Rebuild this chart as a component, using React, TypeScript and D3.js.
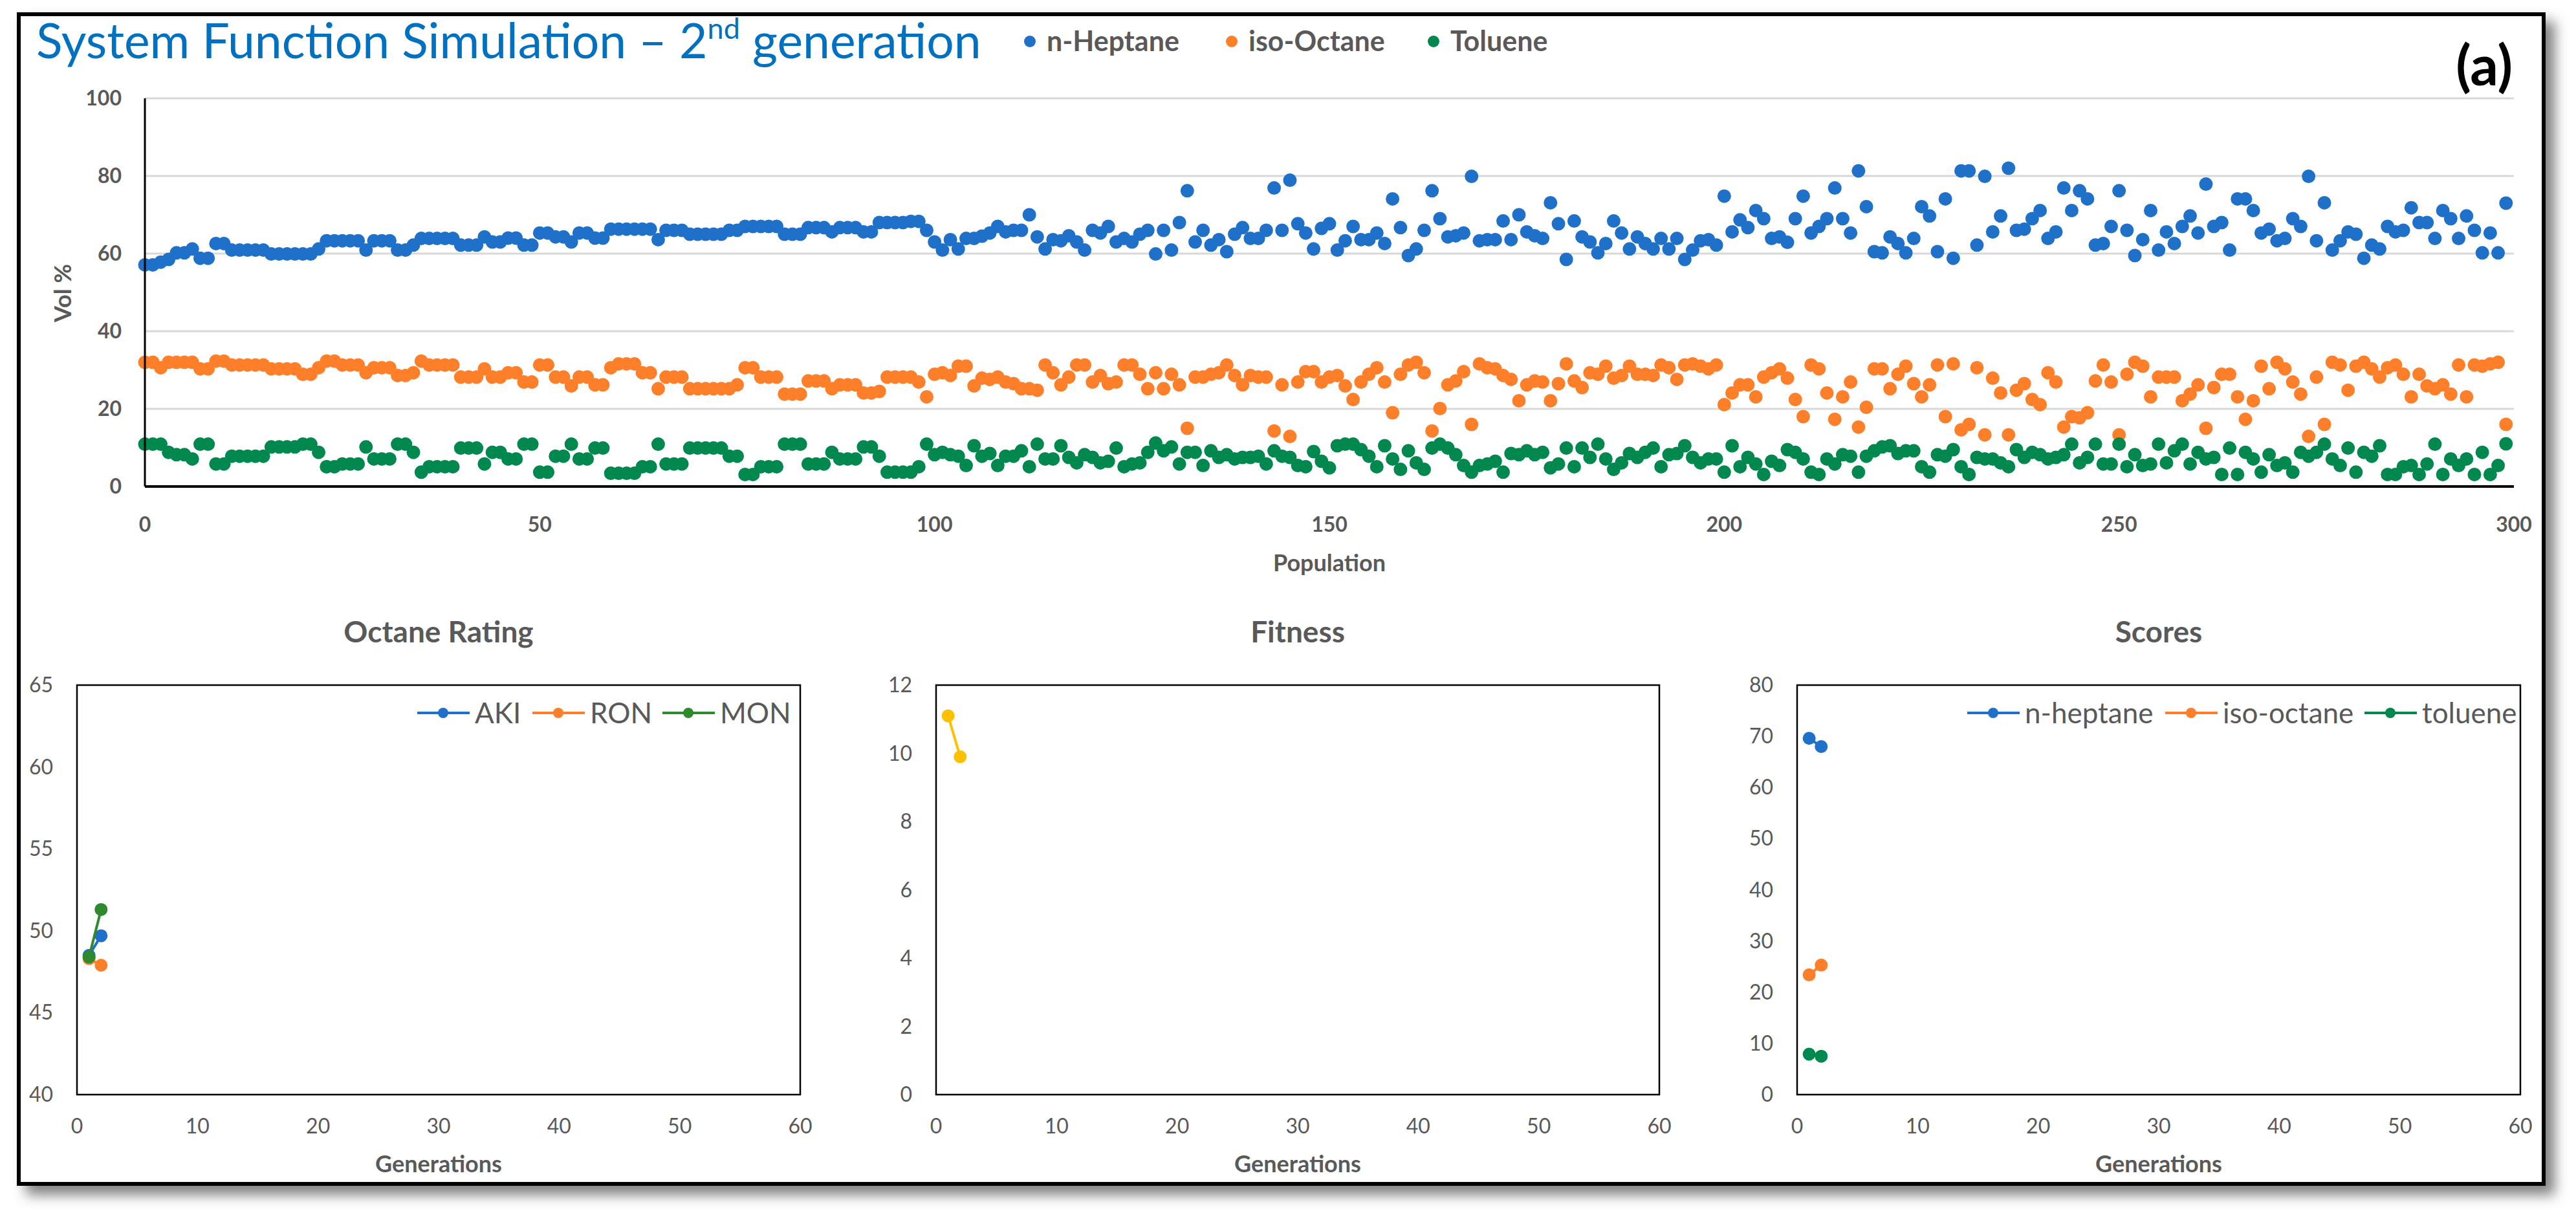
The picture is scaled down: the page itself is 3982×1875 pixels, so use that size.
import React, { useEffect } from "react";
import * as d3 from "d3";

// ---- top scatter: composition of each individual in the population ----
const heptane = [
  57.1, 57.1, 57.8, 58.5, 60.2, 60.2, 61.2, 58.8, 58.8, 62.6,
  62.6, 60.9, 60.9, 60.9, 60.9, 60.9, 59.9, 59.9, 59.9, 59.9,
  59.9, 59.9, 61.2, 63.3, 63.3, 63.3, 63.3, 63.3, 60.9, 63.3,
  63.3, 63.3, 60.9, 60.9, 62.2, 63.9, 63.9, 63.9, 63.9, 63.9,
  62.2, 62.2, 62.2, 64.3, 63.0, 63.0, 64.0, 64.0, 62.2, 62.2,
  65.3, 65.3, 64.3, 64.3, 63.0, 65.3, 65.3, 64.0, 64.0, 66.3,
  66.3, 66.3, 66.3, 66.3, 66.3, 63.6, 66.0, 66.0, 66.0, 65.0,
  65.0, 65.0, 65.0, 65.0, 66.0, 66.0, 67.0, 67.0, 67.0, 67.0,
  67.0, 65.0, 65.0, 65.0, 66.7, 66.7, 66.7, 65.6, 66.7, 66.7,
  66.7, 65.6, 65.6, 68.0, 68.0, 68.0, 68.0, 68.3, 68.3, 66.0,
  63.0, 60.9, 63.6, 61.2, 63.9, 63.9, 64.5, 65.3, 67.0, 65.6,
  66.0, 66.0, 70.0, 64.3, 61.2, 63.6, 63.3, 64.6, 63.0, 60.9,
  66.0, 65.3, 67.0, 63.0, 63.9, 63.0, 65.0, 66.0, 59.9, 66.0,
  60.9, 68.0, 76.2, 63.0, 66.0, 62.2, 63.6, 60.5, 65.0, 66.7,
  63.9, 63.9, 66.0, 76.9, 66.0, 78.9, 67.7, 65.3, 61.2, 66.5,
  67.7, 60.9, 63.3, 67.0, 63.6, 63.6, 65.3, 62.6, 74.1, 66.7,
  59.5, 61.2, 66.0, 76.2, 69.0, 64.3, 64.6, 65.3, 79.9, 63.3,
  63.6, 63.6, 68.4, 63.6, 70.0, 65.6, 64.6, 63.9, 73.1, 67.7,
  58.5, 68.4, 64.3, 63.0, 60.2, 62.6, 68.4, 65.3, 61.2, 64.3,
  62.6, 61.2, 63.9, 61.2, 63.9, 58.5, 60.9, 63.3, 63.6, 62.2,
  74.8, 65.6, 68.7, 66.7, 71.1, 69.0, 63.9, 64.3, 62.9, 69.0,
  74.8, 65.3, 67.0, 69.0, 76.9, 69.0, 65.3, 81.3, 72.1, 60.5,
  60.2, 64.3, 62.6, 60.2, 63.9, 72.1, 69.7, 60.5, 74.1, 58.8,
  81.3, 81.3, 62.2, 79.9, 65.6, 69.7, 82.0, 66.0, 66.3, 69.0,
  71.1, 63.9, 65.6, 76.9, 71.1, 76.2, 74.1, 62.2, 62.6, 67.0,
  76.2, 66.0, 59.5, 63.6, 71.1, 60.9, 65.6, 62.6, 67.0, 69.7,
  65.3, 77.9, 67.0, 68.0, 60.9, 74.1, 74.1, 71.1, 65.3, 66.3,
  63.3, 63.9, 69.0, 67.0, 79.9, 63.3, 73.1, 60.9, 63.3, 65.6,
  65.0, 58.8, 62.2, 61.2, 67.0, 65.6, 66.0, 71.8, 68.0, 68.0,
  63.9, 71.1, 69.0, 63.9, 69.7, 66.0, 60.2, 65.3, 60.2, 73.0,
];

const isoOctane = [
  32.0, 32.0, 30.6, 32.0, 32.0, 32.0, 32.0, 30.3, 30.3, 32.3,
  32.3, 31.3, 31.3, 31.3, 31.3, 31.3, 30.3, 30.3, 30.3, 30.3,
  28.9, 28.9, 30.6, 32.3, 32.3, 31.3, 31.3, 31.3, 29.3, 30.6,
  30.6, 30.6, 28.6, 28.6, 29.3, 32.3, 31.3, 31.3, 31.3, 31.3,
  28.2, 28.2, 28.2, 30.3, 28.2, 28.2, 29.3, 29.3, 26.9, 26.9,
  31.3, 31.3, 28.2, 28.2, 25.9, 28.2, 28.2, 26.2, 26.2, 30.6,
  31.6, 31.6, 31.6, 29.3, 29.3, 25.2, 28.2, 28.2, 28.2, 25.2,
  25.2, 25.2, 25.2, 25.2, 25.2, 26.2, 30.6, 30.6, 28.2, 28.2,
  28.2, 23.8, 23.8, 23.8, 27.2, 27.2, 27.2, 25.2, 26.2, 26.2,
  26.2, 24.1, 24.1, 24.5, 28.2, 28.2, 28.2, 28.2, 26.9, 23.1,
  28.9, 29.3, 28.6, 31.0, 31.0, 25.9, 27.9, 27.6, 28.2, 26.9,
  26.5, 25.2, 25.2, 24.8, 31.3, 29.3, 26.2, 28.2, 31.3, 31.3,
  26.9, 28.6, 26.5, 26.9, 31.3, 31.3, 28.9, 25.2, 29.3, 25.2,
  28.9, 26.2, 15.0, 28.2, 28.2, 28.9, 29.3, 31.3, 28.6, 26.2,
  28.6, 28.2, 28.2, 14.3, 26.2, 12.9, 26.9, 29.6, 29.6, 26.9,
  28.2, 28.6, 25.9, 22.4, 26.9, 28.9, 30.6, 26.9, 19.0, 28.9,
  31.3, 32.0, 29.3, 14.3, 20.1, 26.2, 27.2, 29.6, 16.0, 31.6,
  30.6, 30.3, 28.6, 27.6, 22.1, 26.2, 27.2, 26.9, 22.1, 26.5,
  31.6, 27.2, 25.5, 29.3, 28.9, 31.0, 27.9, 28.6, 31.0, 28.9,
  28.9, 28.6, 31.3, 30.6, 27.6, 31.3, 31.6, 31.0, 30.3, 31.3,
  21.1, 24.1, 26.2, 26.2, 23.1, 28.2, 29.3, 30.3, 27.9, 22.4,
  18.0, 31.3, 30.3, 24.1, 17.3, 23.1, 26.9, 15.3, 20.4, 30.3,
  30.3, 25.2, 28.9, 31.0, 26.5, 23.1, 26.2, 31.3, 18.0, 31.6,
  14.6, 16.0, 30.6, 13.3, 27.9, 24.1, 13.3, 24.8, 26.5, 22.4,
  21.1, 29.3, 26.9, 15.3, 18.0, 17.7, 19.0, 27.2, 31.3, 26.9,
  13.3, 28.9, 32.0, 31.0, 23.1, 28.2, 28.2, 28.2, 22.1, 23.8,
  26.2, 15.0, 25.5, 28.9, 28.9, 23.1, 17.3, 22.1, 31.0, 25.2,
  32.0, 30.3, 26.9, 23.8, 12.9, 28.2, 16.0, 32.0, 31.3, 24.8,
  31.0, 32.0, 30.3, 28.2, 30.6, 31.3, 28.9, 23.1, 28.9, 25.9,
  25.2, 26.2, 23.8, 31.3, 23.1, 31.3, 31.0, 31.6, 32.0, 16.0,
];

const toluene = [
  10.9, 10.9, 10.9, 8.8, 8.2, 8.2, 7.1, 10.9, 10.9, 5.8,
  5.8, 7.8, 7.8, 7.8, 7.8, 7.8, 10.2, 10.2, 10.2, 10.2,
  10.9, 10.9, 8.8, 5.1, 5.1, 5.8, 5.8, 5.8, 10.2, 7.1,
  7.1, 7.1, 10.9, 10.9, 8.8, 3.7, 5.1, 5.1, 5.1, 5.1,
  9.9, 9.9, 9.9, 5.8, 8.8, 8.8, 7.1, 7.1, 10.9, 10.9,
  3.7, 3.7, 7.8, 7.8, 10.9, 7.1, 7.1, 9.9, 9.9, 3.4,
  3.4, 3.4, 3.4, 5.1, 5.1, 10.9, 5.8, 5.8, 5.8, 9.9,
  9.9, 9.9, 9.9, 9.9, 7.8, 7.8, 3.1, 3.1, 5.1, 5.1,
  5.1, 10.9, 10.9, 10.9, 5.8, 5.8, 5.8, 8.8, 7.1, 7.1,
  7.1, 10.2, 10.2, 7.8, 3.7, 3.7, 3.7, 3.7, 5.1, 10.9,
  8.2, 8.8, 8.2, 7.8, 5.4, 10.5, 7.8, 8.5, 5.4, 7.8,
  7.8, 9.2, 5.1, 10.9, 7.1, 7.1, 10.5, 7.5, 6.1, 8.2,
  7.5, 6.1, 6.5, 9.9, 5.1, 5.8, 6.1, 8.8, 11.2, 9.2,
  10.2, 5.8, 8.8, 8.8, 5.4, 9.2, 7.5, 8.2, 7.1, 7.5,
  7.5, 7.8, 5.8, 9.2, 7.8, 7.5, 5.4, 5.1, 9.0, 6.5,
  4.8, 10.5, 10.9, 10.9, 9.5, 7.8, 5.1, 10.5, 7.1, 4.4,
  9.2, 6.1, 4.4, 9.9, 10.9, 9.9, 8.2, 5.4, 3.7, 5.4,
  5.8, 6.5, 3.7, 8.5, 8.2, 9.2, 8.2, 8.8, 4.8, 5.8,
  9.9, 5.1, 9.9, 7.5, 10.9, 7.1, 4.4, 6.1, 8.5, 7.5,
  8.8, 9.9, 5.1, 8.2, 8.5, 10.5, 7.5, 6.1, 7.1, 7.1,
  3.7, 10.5, 5.1, 7.5, 5.8, 3.1, 6.5, 5.4, 9.5, 8.8,
  7.1, 3.7, 3.1, 7.1, 5.8, 8.2, 7.8, 3.7, 7.8, 9.2,
  10.2, 10.5, 8.5, 9.2, 9.2, 5.1, 3.7, 8.2, 7.8, 9.5,
  5.1, 3.1, 7.5, 7.1, 7.1, 6.1, 5.1, 9.5, 7.5, 8.8,
  8.2, 7.1, 7.5, 8.2, 10.9, 6.1, 7.5, 10.9, 5.8, 5.8,
  10.9, 5.1, 8.2, 5.4, 5.8, 10.9, 6.1, 9.2, 10.9, 5.8,
  8.8, 7.1, 7.5, 3.1, 9.9, 3.1, 8.8, 7.1, 3.7, 8.2,
  5.4, 6.1, 3.7, 8.8, 7.8, 8.8, 10.9, 7.1, 5.4, 9.9,
  3.7, 8.8, 7.8, 10.5, 3.1, 3.1, 5.1, 5.4, 3.1, 5.8,
  10.9, 3.1, 7.1, 5.4, 7.1, 3.1, 8.8, 3.1, 5.4, 11.0,
];

const volTicks = [0, 20, 40, 60, 80, 100];
const populationTicks = [0, 50, 100, 150, 200, 250, 300];

// ---- bottom panels: per-generation summaries ----
const generations = [1, 2];
const akiValues = [48.5, 49.7];
const ronValues = [48.3, 47.9];
const monValues = [48.4, 51.3];
const fitnessValues = [11.1, 9.9];
const scoreHeptane = [69.6, 68.0];
const scoreIsoOctane = [23.4, 25.3];
const scoreToluene = [7.9, 7.5];

const generationTicks = [0, 10, 20, 30, 40, 50, 60];
const octaneTicks = [40, 45, 50, 55, 60, 65];
const fitnessTicks = [0, 2, 4, 6, 8, 10, 12];
const scoreTicks = [0, 10, 20, 30, 40, 50, 60, 70, 80];

const FONT = "Lato, 'Open Sans', sans-serif";
const GREY = "#595959";
const BLUE = "#1F70C8";
const ORANGE = "#FE7F2A";
const GREEN = "#00884F";
const MON_GREEN = "#2E8A2C";
const GOLD = "#FFC000";

const W = 3982;
const H = 1875;

type Series = { name: string; color: string; values: number[] };
type LegendItem = { x: number };

function Panel({
  left,
  right,
  title,
  domain,
  ticks,
  series,
  legend,
}: {
  left: number;
  right: number;
  title: string;
  domain: [number, number];
  ticks: number[];
  series: Series[];
  legend?: LegendItem[];
}) {
  const top = 1059;
  const bottom = 1692;
  const x = d3.scaleLinear().domain([0, 60]).range([left, right]);
  const y = d3.scaleLinear().domain(domain).range([bottom, top]);
  const line = d3
    .line<number>()
    .x((_, i) => x(generations[i]))
    .y((d) => y(d));
  const cx = (left + right) / 2;
  return (
    <g fontFamily={FONT}>
      <text
        x={cx}
        y={993}
        textAnchor="middle"
        fontSize={46}
        fontWeight="bold"
        fill={GREY}
      >
        {title}
      </text>
      <rect
        x={left}
        y={top}
        width={right - left}
        height={bottom - top}
        fill="none"
        stroke="#000"
        strokeWidth={2.5}
      />
      {ticks.map((t) => (
        <text
          key={t}
          x={left - 37}
          y={y(t) + 11}
          textAnchor="end"
          fontSize={32}
          fill={GREY}
        >
          {t}
        </text>
      ))}
      {generationTicks.map((t) => (
        <text
          key={t}
          x={x(t)}
          y={1752}
          textAnchor="middle"
          fontSize={32}
          fill={GREY}
        >
          {t}
        </text>
      ))}
      <text
        x={cx}
        y={1812}
        textAnchor="middle"
        fontSize={36}
        fontWeight="bold"
        fill={GREY}
      >
        Generations
      </text>
      {series.map((s) => (
        <g key={s.name}>
          <path
            d={line(s.values) || ""}
            fill="none"
            stroke={s.color}
            strokeWidth={4}
          />
          {s.values.map((v, i) => (
            <circle
              key={i}
              cx={x(generations[i])}
              cy={y(v)}
              r={10}
              fill={s.color}
            />
          ))}
        </g>
      ))}
      {legend &&
        legend.map((item, i) => (
          <g key={series[i].name}>
            <line
              x1={item.x}
              x2={item.x + 81}
              y1={1102}
              y2={1102}
              stroke={series[i].color}
              strokeWidth={4}
            />
            <circle cx={item.x + 40} cy={1102} r={8} fill={series[i].color} />
            <text x={item.x + 89} y={1118} fontSize={44} fill={GREY}>
              {series[i].name}
            </text>
          </g>
        ))}
    </g>
  );
}

export default function App() {
  useEffect(() => {
    document.body.style.margin = "0";
  }, []);

  const x = d3.scaleLinear().domain([0, 300]).range([224, 3886]);
  const y = d3.scaleLinear().domain([0, 100]).range([752, 152]);

  const topSeries: Series[] = [
    { name: "n-Heptane", color: BLUE, values: heptane },
    { name: "iso-Octane", color: ORANGE, values: isoOctane },
    { name: "Toluene", color: GREEN, values: toluene },
  ];
  const topLegendX = [1592, 1904, 2216];

  return (
    <svg
      width={W}
      height={H}
      viewBox={`0 0 ${W} ${H}`}
      style={{ display: "block", position: "absolute", left: 0, top: 0 }}
    >
      <defs>
        <filter id="shadow" x="-5%" y="-5%" width="110%" height="110%">
          <feDropShadow
            dx={14}
            dy={14}
            stdDeviation={10}
            floodColor="#000"
            floodOpacity={0.5}
          />
        </filter>
      </defs>
      <rect width={W} height={H} fill="#fff" />
      <rect
        x={29}
        y={22}
        width={3903}
        height={1808}
        fill="#fff"
        stroke="#000"
        strokeWidth={6}
        filter="url(#shadow)"
      />

      {/* title and legend */}
      <text x={56} y={90} fontFamily={FONT} fontSize={75} fill="#0070C0">
        System Function Simulation – 2
        <tspan dy={-30} fontSize={45}>
          nd
        </tspan>
        <tspan dy={30} fontSize={75}>
          {" "}generation
        </tspan>
      </text>
      {topSeries.map((s, i) => (
        <g key={s.name} fontFamily={FONT}>
          <circle cx={topLegendX[i]} cy={64} r={9} fill={s.color} />
          <text
            x={topLegendX[i] + 26}
            y={79}
            fontSize={43}
            fontWeight="bold"
            fill={GREY}
          >
            {s.name}
          </text>
        </g>
      ))}
      <text
        x={3884}
        y={132}
        textAnchor="end"
        fontFamily={FONT}
        fontSize={86}
        fontWeight="bold"
        fill="#000"
      >
        (a)
      </text>

      {/* top scatter */}
      {volTicks.map((t) => (
        <g key={t}>
          {t > 0 && (
            <line
              x1={224}
              x2={3886}
              y1={y(t)}
              y2={y(t)}
              stroke="#D9D9D9"
              strokeWidth={3}
            />
          )}
          <text
            x={188}
            y={y(t) + 11}
            textAnchor="end"
            fontFamily={FONT}
            fontSize={32}
            fontWeight="bold"
            fill={GREY}
          >
            {t}
          </text>
        </g>
      ))}
      {populationTicks.map((t) => (
        <text
          key={t}
          x={x(t)}
          y={822}
          textAnchor="middle"
          fontFamily={FONT}
          fontSize={32}
          fontWeight="bold"
          fill={GREY}
        >
          {t}
        </text>
      ))}
      <text
        transform={`translate(110,453) rotate(-90)`}
        textAnchor="middle"
        fontFamily={FONT}
        fontSize={36}
        fontWeight="bold"
        fill={GREY}
      >
        Vol %
      </text>
      <text
        x={2055}
        y={883}
        textAnchor="middle"
        fontFamily={FONT}
        fontSize={36}
        fontWeight="bold"
        fill={GREY}
      >
        Population
      </text>
      {topSeries.map((s) => (
        <g key={s.name}>
          {s.values.map((v, i) => (
            <circle key={i} cx={x(i)} cy={y(v)} r={10.5} fill={s.color} />
          ))}
        </g>
      ))}
      <line x1={224} x2={224} y1={152} y2={752} stroke="#000" strokeWidth={3} />
      <line x1={224} x2={3886} y1={752} y2={752} stroke="#000" strokeWidth={4} />

      {/* bottom panels */}
      <Panel
        left={119}
        right={1237}
        title="Octane Rating"
        domain={[40, 65]}
        ticks={octaneTicks}
        series={[
          { name: "AKI", color: BLUE, values: akiValues },
          { name: "RON", color: ORANGE, values: ronValues },
          { name: "MON", color: MON_GREEN, values: monValues },
        ]}
        legend={[{ x: 645 }, { x: 823 }, { x: 1024 }]}
      />
      <Panel
        left={1447}
        right={2565}
        title="Fitness"
        domain={[0, 12]}
        ticks={fitnessTicks}
        series={[{ name: "Fitness", color: GOLD, values: fitnessValues }]}
      />
      <Panel
        left={2778}
        right={3896}
        title="Scores"
        domain={[0, 80]}
        ticks={scoreTicks}
        series={[
          { name: "n-heptane", color: BLUE, values: scoreHeptane },
          { name: "iso-octane", color: ORANGE, values: scoreIsoOctane },
          { name: "toluene", color: GREEN, values: scoreToluene },
        ]}
        legend={[{ x: 3041 }, { x: 3347 }, { x: 3655 }]}
      />
    </svg>
  );
}
